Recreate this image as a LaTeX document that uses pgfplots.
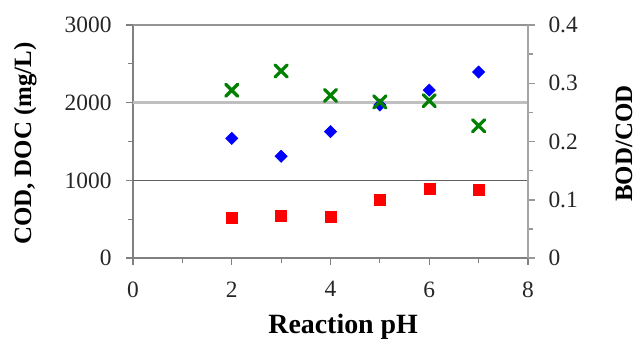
\documentclass[border=0pt]{standalone}
\usepackage{pgfplots}
\pgfplotsset{compat=1.18}
\usepackage{fontspec}
\setmainfont{Liberation Serif}
\definecolor{ggreen}{RGB}{0,128,0}
\begin{document}
\begin{tikzpicture}
\path[use as bounding box] (-133bp,-85bp) rectangle (503bp,258bp);
\pgfplotsset{
  every axis/.append style={
    scale only axis, width=395bp, height=233bp,
    xmin=0, xmax=8, clip=false,
    tick align=outside,
    major tick length=7bp, minor tick length=5bp,
    /pgf/number format/assume math mode=true,
    tick label style={font=\fontsize{23.5}{26}\selectfont, text=black!85},
    label style={font=\fontsize{25}{28}\selectfont\bfseries},
  }
}
\begin{axis}[
  axis x line*=bottom, axis y line*=left,
  axis line style={black!50, line width=1.2bp},
  every tick/.style={black!50, line width=1.2bp},
  ymin=0, ymax=3000,
  xtick={0,2,4,6,8}, minor xtick={1,3,5,7},
  ytick={0,1000,2000,3000}, minor ytick={500,1500,2500},
  xlabel={Reaction pH},
  ylabel={COD, DOC (mg/L)},
  xlabel style={at={(axis description cs:0.532,-0.296)}, anchor=center, font=\fontsize{28}{30}\selectfont\bfseries},
  ylabel style={at={(axis description cs:-0.273,0.491)}, anchor=center},
  /pgf/number format/1000 sep={},
  yticklabel style={xshift=-11bp},
  xticklabel style={yshift=-13bp},
]
\addplot[black!25, line width=3bp, forget plot] coordinates {(0,2000) (8,2000)};
\addplot[black!62, line width=1.3bp, forget plot] coordinates {(0,1000) (8,1000)};
\addplot[black!42, line width=1.5bp, forget plot] coordinates {(0,3000) (8,3000)};
\addplot[only marks, mark=square*, mark size=5.5bp, color=red, mark options={fill=red, draw=red}]
  coordinates {(2,524) (3,545) (4,528) (5,750) (6,897) (7,879)};
\addplot[only marks, mark=square*, mark size=4.4bp, color=blue, mark options={fill=blue, draw=blue, rotate=45}]
  coordinates {(2,1541) (3,1309) (4,1626) (5,1969) (6,2162) (7,2394)};
\end{axis}
\begin{axis}[
  axis x line=none, axis y line*=right,
  axis line style={black!35, line width=2.5bp},
  every tick/.style={black!40, line width=1.5bp},
  ymin=0, ymax=0.4,
  ytick={0,0.1,0.2,0.3,0.4}, minor ytick={0.05,0.15,0.25,0.35},
  ylabel={BOD/COD},
  ylabel style={at={(axis description cs:1.243,0.491)}, anchor=center},
  yticklabel style={xshift=10bp, /pgf/number format/fixed, /pgf/number format/precision=1},
]
\addplot[only marks, mark=x, mark size=8.5bp, color=ggreen, line width=3.2bp, mark options={line width=3.2bp, draw=ggreen, line cap=round}]
  coordinates {(2,0.288) (3,0.321) (4,0.279) (5,0.268) (6,0.270) (7,0.227)};
\end{axis}
\end{tikzpicture}
\end{document}
